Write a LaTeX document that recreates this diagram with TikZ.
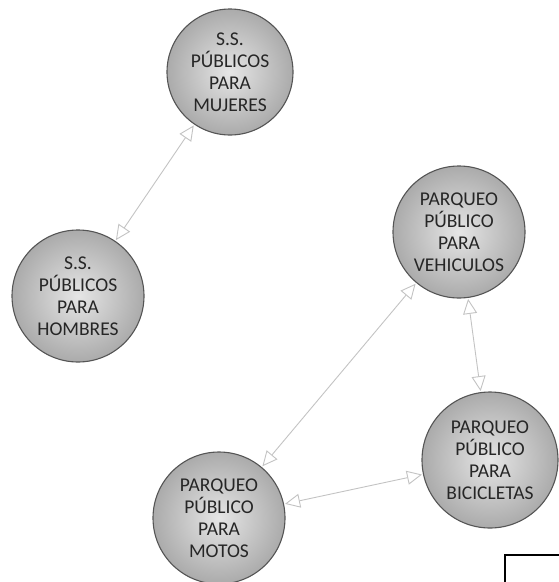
\documentclass[tikz,border=0pt]{standalone}
\usepackage{fontspec}
\setmainfont{Carlito}
\usepackage{xcolor}
\usepackage{tikz}
\usetikzlibrary{arrows.meta, positioning, shapes.geometric, calc}
\definecolor{ringgray}{RGB}{85,85,85}
\definecolor{linkgray}{RGB}{195,195,195}
\tikzset{
  place/.style  ={circle, draw=ringgray, line width=1.1pt, minimum size=132pt,
                  inner sep=0pt, align=center, text=black!85,
                  font=\fontsize{19.5}{22}\selectfont,
                  inner color=black!10, outer color=black!33},
  link/.style   ={{Triangle[open, length=15pt, width=14pt, fill=white]}-{Triangle[open, length=15pt, width=14pt, fill=white]},
                  line width=0.9pt, linkgray, shorten <=1pt, shorten >=1pt},
  frame/.style  ={draw=black, line width=2pt}
}

\begin{document}
\begin{tikzpicture}[x=1pt, y=-1pt]
\useasboundingbox (0,0) rectangle (559,582);

% Servicios sanitarios
\node[place, minimum size=126pt] (muj) at (230,72)  {S.S.\\PÚBLICOS\\PARA\\MUJERES};
\node[place]                     (hom) at (78,296)  {S.S.\\PÚBLICOS\\PARA\\HOMBRES};

% Parqueos
\node[place]                     (veh) at (459,232) {PARQUEO\\PÚBLICO\\PARA\\VEHICULOS};
\node[place, minimum size=136pt] (bic) at (490,460) {PARQUEO\\PÚBLICO\\PARA\\BICICLETAS};
\node[place]                     (mot) at (219,518) {PARQUEO\\PÚBLICO\\PARA\\MOTOS};

% Relaciones
\draw[link] (muj) -- (hom);
\draw[link] (veh) -- (mot);
\draw[link] (veh) -- (bic);
\draw[link] (mot) -- (bic);

% recuadro (esquina inferior)
\draw[frame] (559,555) -| (505,582);
\end{tikzpicture}
\end{document}
